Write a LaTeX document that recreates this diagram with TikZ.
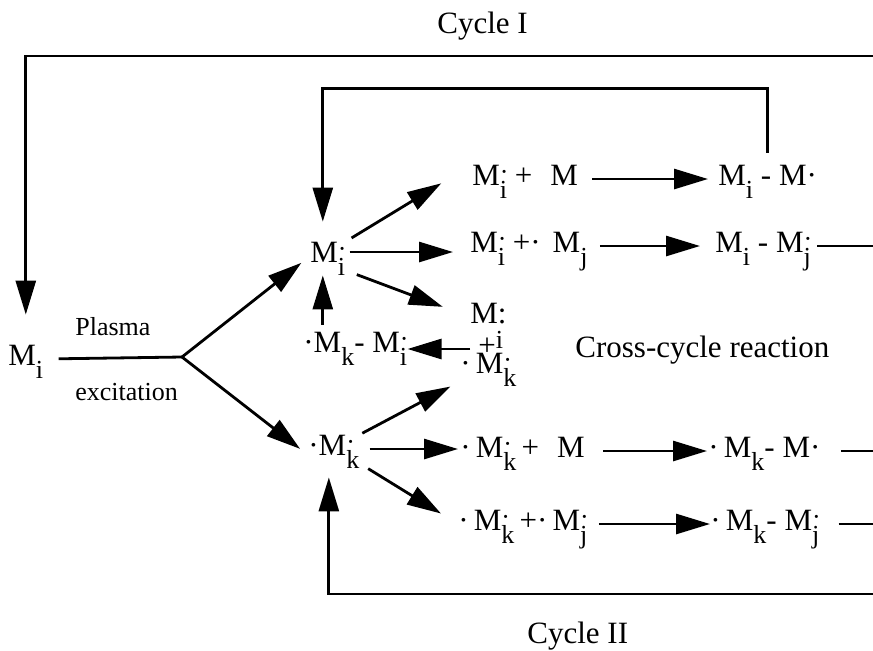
\documentclass[tikz,border=0pt]{standalone}
\usepackage{fontspec}
\setmainfont{Liberation Serif}
\usetikzlibrary{arrows.meta}
\newcommand\mysub[1]{\raisebox{-6.5pt}{\fontsize{13}{13}\selectfont #1}}
\newcommand\mysupsub[2]{\rlap{\raisebox{2.5pt}{\fontsize{13}{13}\selectfont #1}}\mysub{#2}}
\begin{document}
\begin{tikzpicture}[x=0.5pt,y=-0.5pt,
  lbl/.style={anchor=base west, inner sep=0pt, text height=10pt, text depth=4pt, font=\fontsize{15.5}{18}\selectfont},
  smalltext/.style={anchor=base west, inner sep=0pt, font=\fontsize{13}{16}\selectfont},
  arr/.style={line width=1.4pt, -{Triangle[length=17pt,width=10pt]}},
  ln/.style={line width=1.4pt}]
\useasboundingbox (0,0) rectangle (873,650);
% nodes
\node[lbl] (mi) at (8,365) {M\mysub{i}};
\node[smalltext] (plasma) at (75,335) {Plasma};
\node[smalltext] (excit) at (75,400) {excitation};
\coordinate (J) at (182,357);
\node[lbl] (up) at (310,262) {M\mysupsub{·}{i}};
\node[lbl] (low) at (308,455) {·M\mysupsub{·}{k}};
\node[lbl] (r1a) at (472,185) {M\mysupsub{·}{i} +\hspace{9pt}M};
\node[lbl] (r1b) at (718,185) {M\mysub{i} - M·};
\node[lbl] (r2a) at (470,252) {M\mysupsub{·}{i} +·\hspace{6pt}M\mysub{j}};
\node[lbl] (r2b) at (715,252) {M\mysub{i} - M\mysupsub{·}{j}};
\node[lbl] (st1) at (470,323) {M:};
\node[lbl] (st2) at (478,355) {+\raisebox{3.5pt}{\fontsize{13}{13}\selectfont i}};
\node[lbl] (st3) at (460,373) {·\,M\mysupsub{·}{k}};
\node[lbl] (lk) at (303,352) {·M\mysub{k}- M\mysupsub{·}{i}};
\node[lbl] (cross) at (575,357) {Cross-cycle reaction};
\node[lbl] (r3a) at (460,457) {·\,M\mysupsub{·}{k}\,+\hspace{9pt}M};
\node[lbl] (r3b) at (708,457) {·\,M\mysub{k}- M·};
\node[lbl] (r4a) at (458,530) {·\,M\mysupsub{·}{k}\,+·\,M\mysupsub{·}{j}};
\node[lbl] (r4b) at (710,530) {·\,M\mysub{k}- M\mysupsub{·}{j}};
\node[lbl] (c1) at (437,33) {Cycle I};
\node[lbl] (c2) at (527,643) {Cycle II};
\coordinate (E1) at (873,56);
\coordinate (E2) at (873,594);
\coordinate (upN) at ([xshift=-2.5pt]up.north);
\coordinate (upS) at ([xshift=-2.5pt]up.south);
\coordinate (lowS) at ([xshift=-2.5pt]low.south);
% connectors
\draw[ln, shorten <=7.5pt] (mi.east) -- (J);
\draw[arr, shorten >=5.5pt] (J) -- (up.west);
\draw[arr, shorten >=5pt] (J) -- (low.base west);
\draw[arr, shorten >=15pt] (E1) -| (mi.north);
\draw[arr, shorten <=6pt, shorten >=10pt] (r1b.north) -- ++(0,-76) -| (upN);
\draw[arr, shorten >=7pt] (E2) -| (lowS);
\draw[arr, shorten <=3.5pt, shorten >=18pt] (up.north east) -- (r1a.north west);
\draw[arr, shorten <=2pt, shorten >=8.5pt] ([yshift=2pt]up.east) -- ([yshift=2pt]up.east -| r2a.west);
\draw[arr, shorten <=6pt, shorten >=14.5pt] (up.south east) -- (st1.west);
\draw[arr, shorten <=4pt] (st2.west) -- (st2.west -| lk.east);
\draw[arr, shorten <=3.5pt, shorten >=2.5pt] (lk.north -| upS) -- (upS);
\draw[arr, shorten <=1.5pt, shorten >=5.5pt] (low.north east) -- (st3.south west);
\draw[arr, shorten <=5pt, shorten >=1pt] (low.east) -- (low.east -| r3a.west);
\draw[arr, shorten <=5pt, shorten >=10pt] (low.south east) -- (r4a.west);
\draw[arr, shorten <=7pt, shorten >=5pt] (r1a.east) -- (r1b.west);
\draw[arr, shorten <=6pt, shorten >=7.5pt] (r2a.east) -- (r2b.west);
\draw[arr, shorten <=9pt, shorten >=0.5pt] (r3a.east) -- (r3b.west);
\draw[arr, shorten <=5.5pt] (r4a.east) -- (r4b.west);
\draw[ln, shorten <=3pt] (r2b.east) -- (r2b.east -| E1);
\draw[ln, shorten <=10pt] (r3b.east) -- (r3b.east -| E1);
\draw[ln, shorten <=9.5pt] (r4b.east) -- (r4b.east -| E1);
\end{tikzpicture}
\end{document}
